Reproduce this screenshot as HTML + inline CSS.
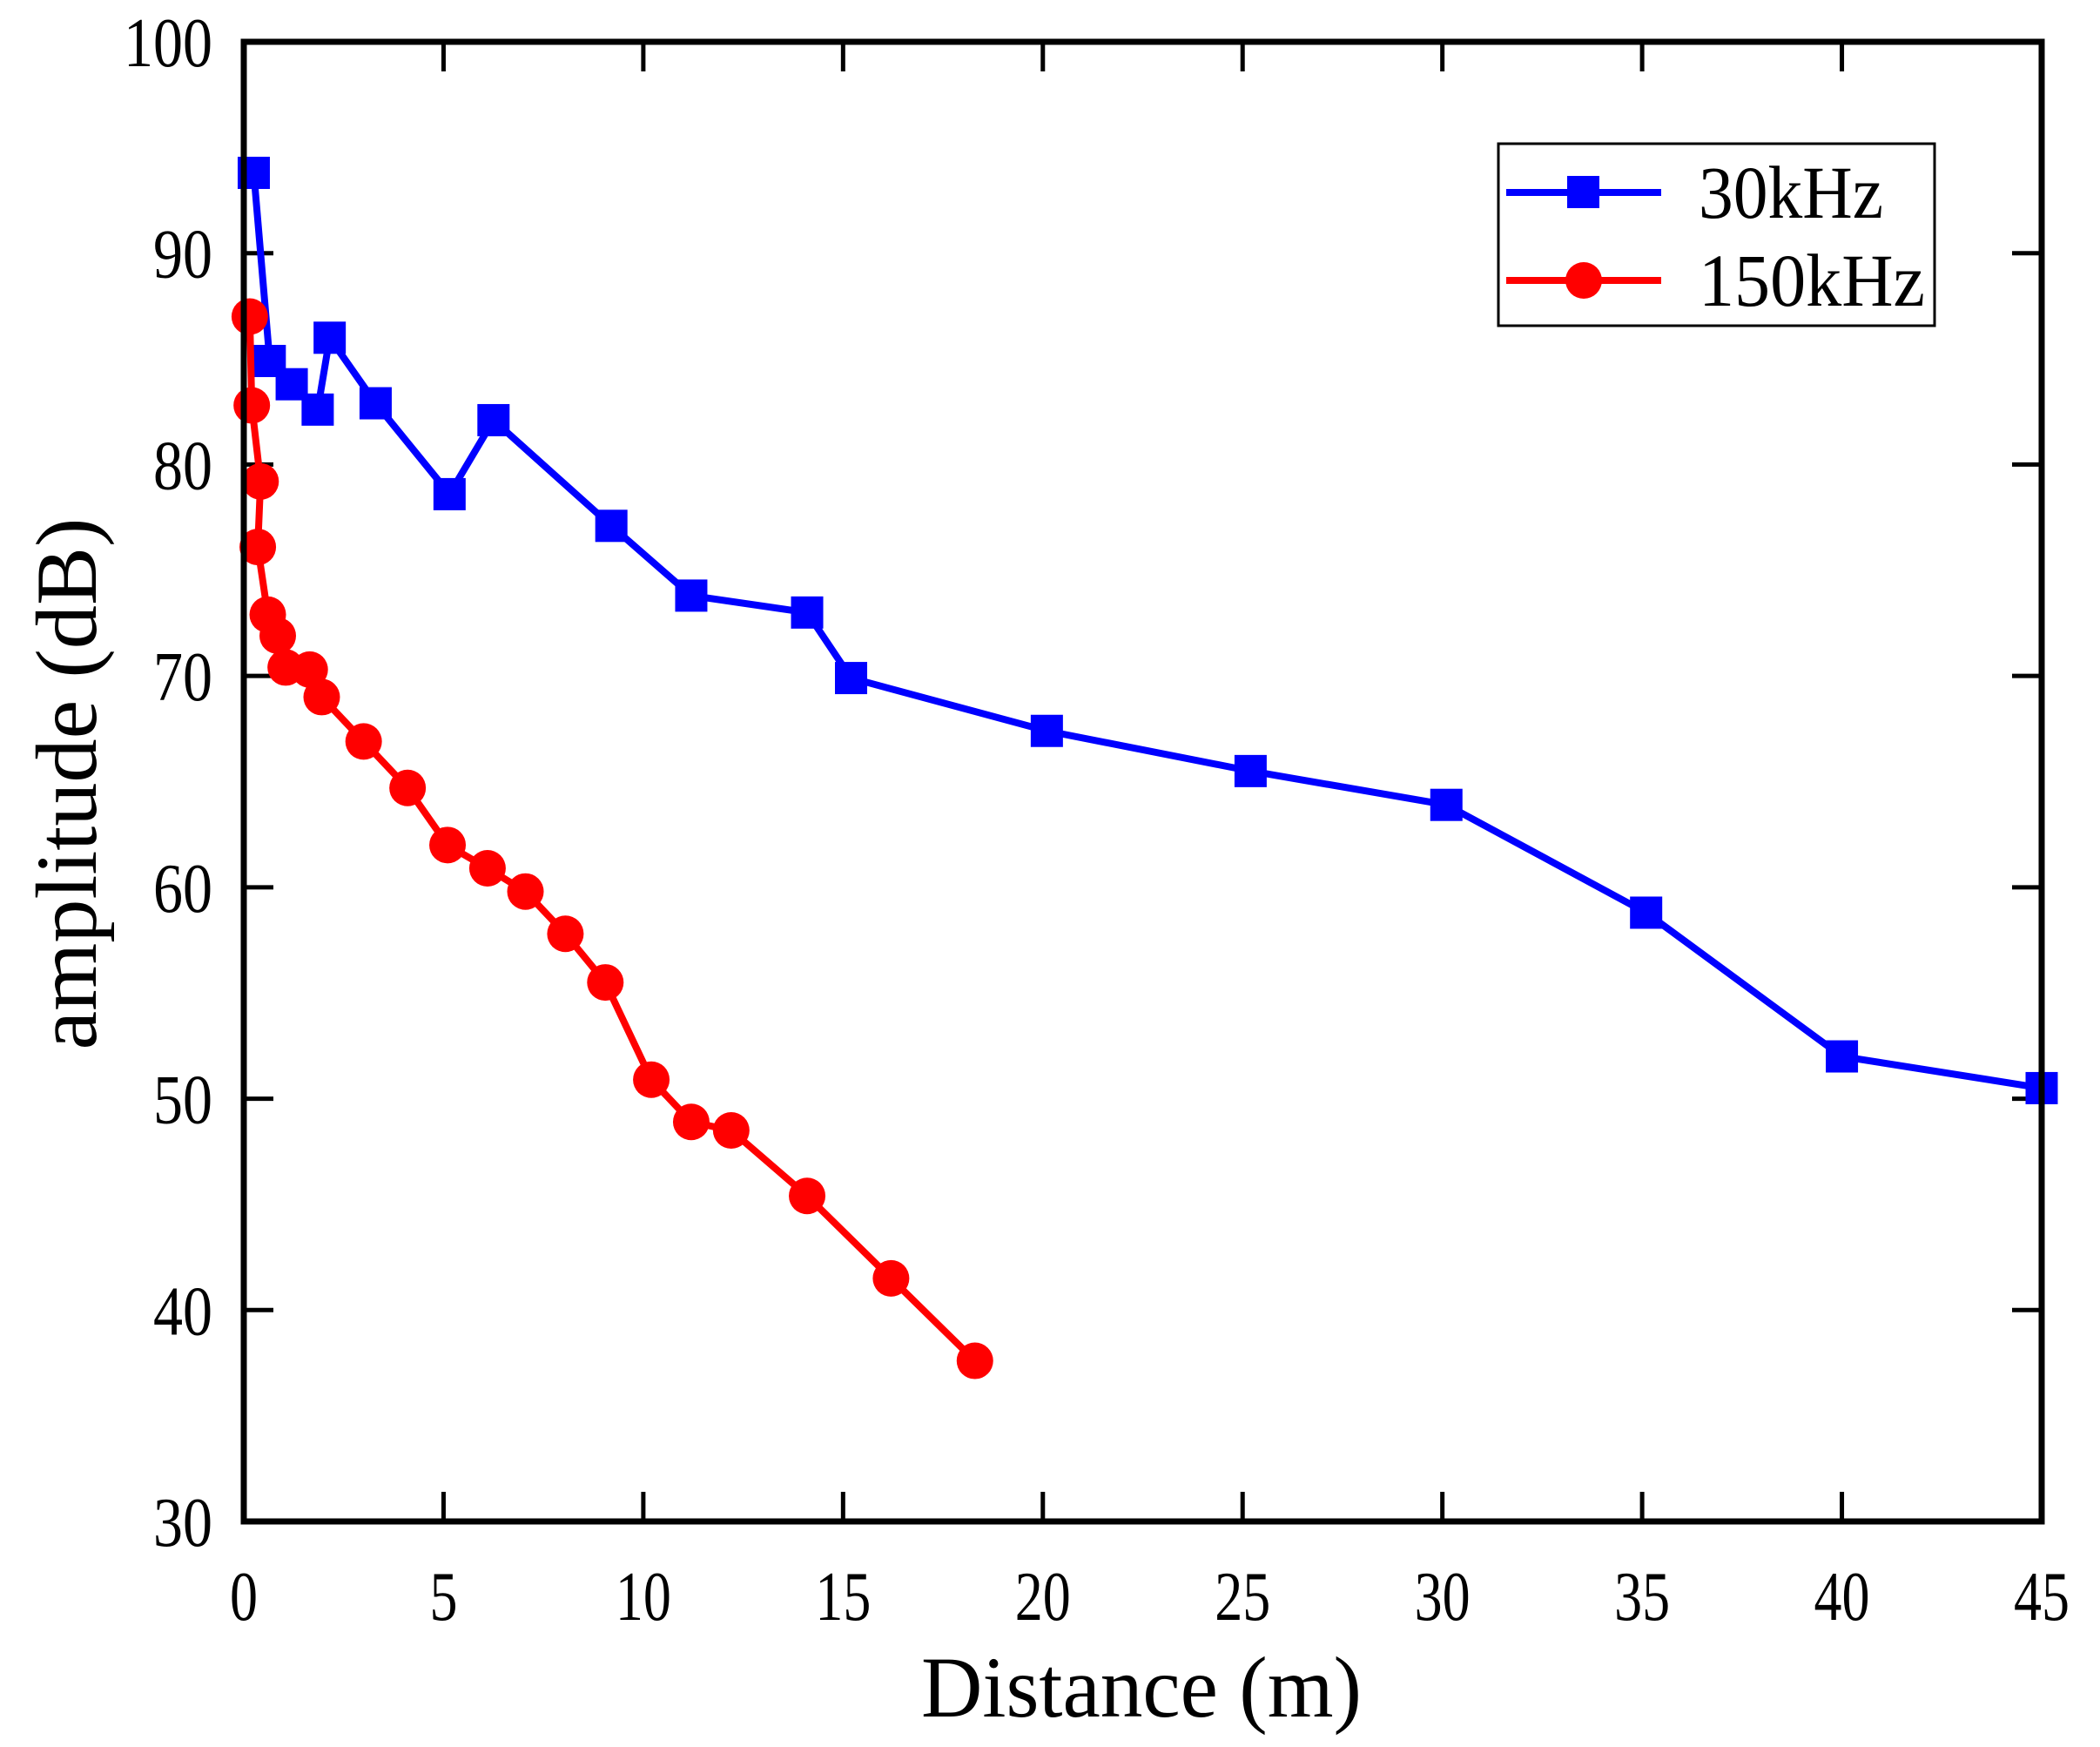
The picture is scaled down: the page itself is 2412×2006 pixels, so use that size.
<!DOCTYPE html>
<html><head><meta charset="utf-8"><style>html,body{margin:0;padding:0;background:#fff}svg{display:block}</style></head>
<body>
<svg id="chart" width="2412" height="2006" viewBox="0 0 2412 2006" xmlns="http://www.w3.org/2000/svg" font-family="'Liberation Serif', serif">
<rect width="2412" height="2006" fill="#fff"/>
<g id="plot"></g>
<rect x="280" y="48" width="2065" height="1699" fill="none" stroke="#000" stroke-width="7"/>
<text x="1311" y="1971" font-size="100" text-anchor="middle" textLength="506" lengthAdjust="spacingAndGlyphs">Distance (m)</text>
<text transform="translate(110,900) rotate(-90)" font-size="100" text-anchor="middle" textLength="611" lengthAdjust="spacingAndGlyphs">amplitude (dB)</text>
<g transform="translate(-9,0)">
<rect x="1730" y="165" width="501" height="209" fill="#fff" stroke="#000" stroke-width="3"/>
<line x1="1739" y1="221" x2="1917" y2="221" stroke="#0000ff" stroke-width="8"/>
<rect x="1809" y="202" width="37" height="37" fill="#0000ff"/>
<text x="1960" y="250" font-size="86" textLength="212" lengthAdjust="spacingAndGlyphs">30kHz</text>
<line x1="1739" y1="322" x2="1917" y2="322" stroke="#ff0000" stroke-width="8"/>
<circle cx="1828" cy="322" r="21" fill="#ff0000"/>
<text x="1960" y="351" font-size="86" textLength="260" lengthAdjust="spacingAndGlyphs">150kHz</text>
</g>
</svg>
<script>
const xTicks = [0,5,10,15,20,25,30,35,40,45];
const yTicks = [30,40,50,60,70,80,90,100];
const blueX = [0.25,0.65,1.2,1.85,2.15,3.3,5.15,6.25,9.2,11.2,14.1,15.2,20.1,25.2,30.1,35.1,40,45];
const blueY = [93.8,84.9,83.8,82.6,86,82.9,78.6,82.1,77.1,73.8,73,69.9,67.4,65.5,63.9,58.8,52,50.5];
const redX = [0.15,0.2,0.42,0.35,0.6,0.85,1.05,1.65,1.95,3,4.1,5.1,6.1,7.05,8.05,9.05,10.2,11.2,12.2,14.1,16.2,18.3];
const redY = [87,82.8,79.2,76.1,72.9,71.9,70.4,70.3,69,66.9,64.7,62,60.9,59.8,57.8,55.5,50.9,48.9,48.5,45.4,41.5,37.6];

const NS = 'http://www.w3.org/2000/svg';
const X0=280, X1=2345, Y0=1747, Y1=48;
function sx(v){return X0+(v-0)/(45-0)*(X1-X0);}
function sy(v){return Y0-(v-30)/(100-30)*(Y0-Y1);}
const g = document.getElementById('plot');
function mk(tag, attrs){const e=document.createElementNS(NS,tag);for(const k in attrs)e.setAttribute(k,attrs[k]);g.appendChild(e);return e;}

xTicks.forEach(t=>{
  const x=sx(t);
  const a=mk('line',{x1:x,y1:Y0,x2:x,y2:Y0-34,stroke:'#000','stroke-width':5});
  
  
  const b=mk('line',{x1:x,y1:Y1,x2:x,y2:Y1+34,stroke:'#000','stroke-width':5});
  
  
  const s=String(t);
  const tx=mk('text',{x:x,y:1860,'font-size':80,'text-anchor':'middle',textLength:s.length*32,lengthAdjust:'spacingAndGlyphs'});
  tx.textContent=s;
  
  
});
yTicks.forEach(t=>{
  const y=sy(t);
  const a=mk('line',{x1:X0,y1:y,x2:X0+34,y2:y,stroke:'#000','stroke-width':5});
  
  
  const b=mk('line',{x1:X1,y1:y,x2:X1-34,y2:y,stroke:'#000','stroke-width':5});
  
  
  const s=String(t);
  const tx=mk('text',{x:244,y:y+28,'font-size':80,'text-anchor':'end',textLength:s.length*34,lengthAdjust:'spacingAndGlyphs'});
  tx.textContent=s;
  
  
});

function series(xs,ys,color,shape,name){
  const pts=xs.map((v,i)=>sx(v)+','+sy(ys[i])).join(' ');
  const pl=mk('polyline',{points:pts,fill:'none',stroke:color,'stroke-width':8,'stroke-linejoin':'miter'});
  
  
  xs.forEach((v,i)=>{
    let m;
    if(shape==='square') m=mk('rect',{x:sx(v)-18.5,y:sy(ys[i])-18.5,width:37,height:37,fill:color});
    else m=mk('circle',{cx:sx(v),cy:sy(ys[i]),r:21,fill:color});
    
    
  });
}
series(blueX,blueY,'#0000ff','square','series-30khz');
series(redX,redY,'#ff0000','circle','series-150khz');
</script>
</body></html>
